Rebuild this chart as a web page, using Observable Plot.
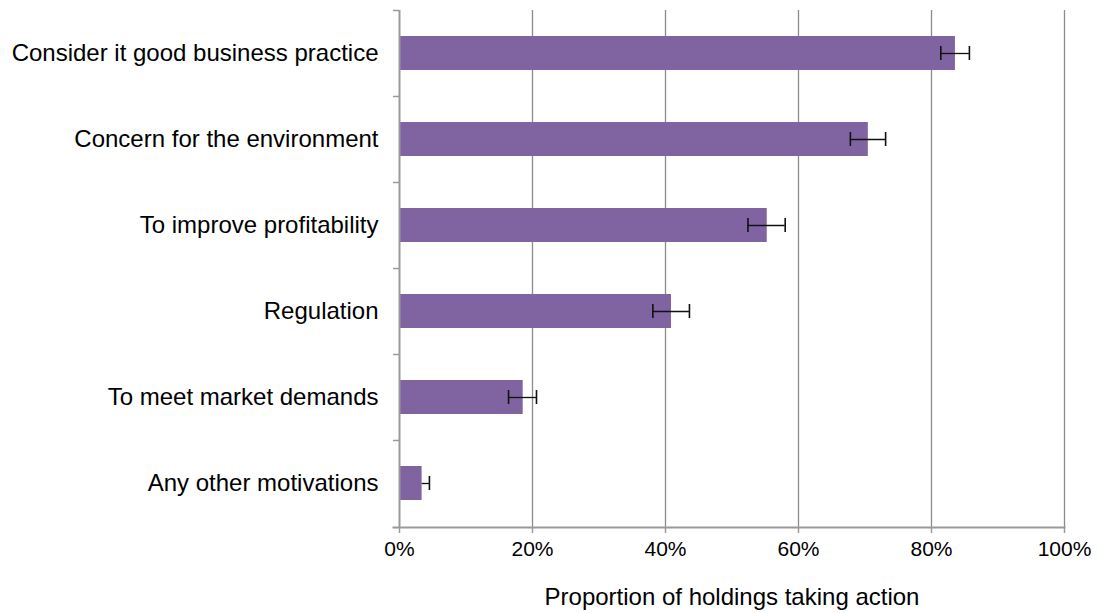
<!DOCTYPE html>
<html>
<head>
<meta charset="utf-8">
<script src="https://cdn.jsdelivr.net/npm/d3@7"></script>
<script src="https://cdn.jsdelivr.net/npm/@observablehq/plot@0.6"></script>
<style>
  html, body { margin: 0; padding: 0; background: #fff; }
  #chart { width: 1098px; height: 613px; }
  svg { font-family: "Liberation Sans", Arial, sans-serif; }
</style>
</head>
<body>
<div id="chart"></div>
<script>
const categories = [
  "Consider it good business practice",
  "Concern for the environment",
  "To improve profitability",
  "Regulation",
  "To meet market demands",
  "Any other motivations"
];
const values = [83.6, 70.5, 55.3, 40.9, 18.6, 3.4];
const lower = [81.4, 67.8, 52.4, 38.1, 16.4, null];
const upper = [85.7, 73.1, 58.0, 43.6, 20.6, 4.5];
const xTicks = [0, 20, 40, 60, 80, 100];
const xTitle = "Proportion of holdings taking action";

const data = categories.map((c, i) => ({label: c, value: values[i], lo: lower[i], hi: upper[i]}));

const axisColor = "#9a9a9a";

const chart = Plot.plot({
  width: 1098,
  height: 613,
  marginLeft: 399,
  marginRight: 34,
  marginTop: 10,
  marginBottom: 86,
  style: {fontFamily: "'Liberation Sans', Arial, sans-serif", background: "#fff", color: "#000"},
  x: {domain: [0, 100], ticks: xTicks},
  y: {domain: categories, paddingInner: 0.6, paddingOuter: 0.3},
  marks: [
    Plot.gridX(xTicks.filter(d => d > 0), {stroke: "#8c8c8c", strokeOpacity: 1, strokeWidth: 1.3}),
    Plot.barX(data, {y: "label", x: "value", fill: "#8064A2"}),
    Plot.ruleY(data, {y: "label", x1: d => d.lo ?? d.value, x2: "hi", stroke: "#111", strokeWidth: 1.3}),
    Plot.tickX(data.filter(d => d.lo != null), {y: "label", x: "lo", stroke: "#111", strokeWidth: 1.6, insetTop: 10, insetBottom: 10}),
    Plot.tickX(data, {y: "label", x: "hi", stroke: "#111", strokeWidth: 1.6, insetTop: 10, insetBottom: 10}),
    Plot.ruleX([0], {stroke: axisColor, strokeWidth: 2}),
    Plot.frame({anchor: "bottom", stroke: axisColor, strokeWidth: 2, insetLeft: -6}),
    Plot.axisY({tickSize: 0, tickPadding: 21, fontSize: 24, label: null, color: "#000"}),
    Plot.axisY({tickSize: 6, text: null, dy: -43, stroke: axisColor, strokeWidth: 1.5, label: null}),
    Plot.axisX({ticks: xTicks, tickSize: 6, tickPadding: 8, fontSize: 21, tickFormat: d => d + "%", label: null, stroke: axisColor, strokeWidth: 1.5, color: "#000"}),
    Plot.text([xTitle], {frameAnchor: "bottom", dy: 77, fontSize: 24, fill: "#000"})
  ]
});
document.getElementById("chart").appendChild(chart);
</script>
</body>
</html>
